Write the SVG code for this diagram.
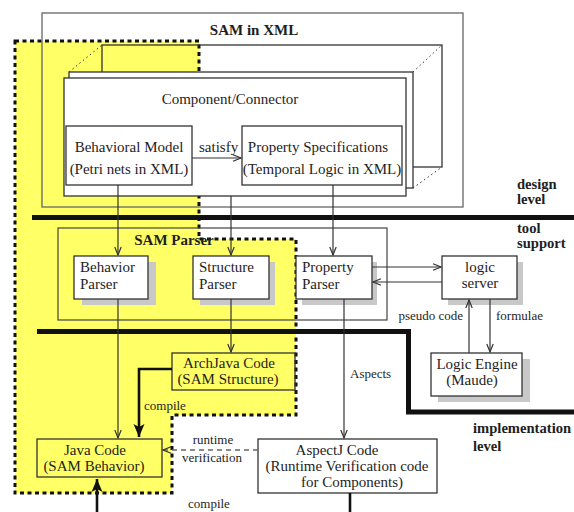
<svg xmlns="http://www.w3.org/2000/svg" width="574" height="512" viewBox="0 0 574 512">
  <style>
    text { font-family: "Liberation Serif", "Times New Roman", serif; fill: #1e1e1e; }
    .t15 { font-size: 15px; }
    .t13 { font-size: 13px; }
    .bold { font-size: 15px; font-weight: bold; }
    .lvl { font-size: 14.6px; font-weight: bold; }
    .mid { text-anchor: middle; }
    .end { text-anchor: end; }
    .box { fill: #fff; stroke: #333; stroke-width: 1.3; }
    .clear { fill: none; stroke: #333; stroke-width: 1.3; }
    .shadow { fill: #c8c8c8; }
    .edge { fill: none; stroke: #333; stroke-width: 1.2; }
    .heavy { fill: none; stroke: #111; stroke-width: 2.6; }
    .dash { fill: none; stroke: #666; stroke-width: 1.4; stroke-dasharray: 5 4; }
    .bar { fill: none; stroke: #111; stroke-width: 5; }
    .dots { fill: none; stroke: #333; stroke-width: 1; stroke-dasharray: 1.5 3; }
  </style>
  <defs>
    <marker id="open" markerUnits="userSpaceOnUse" markerWidth="12" markerHeight="10" refX="9" refY="4" orient="auto">
      <path d="M1,0.8 L9,4 L1,7.2" fill="none" stroke="#333" stroke-width="1.2"/>
    </marker>
    <marker id="solid" markerUnits="userSpaceOnUse" markerWidth="16" markerHeight="14" refX="13" refY="6" orient="auto">
      <path d="M0,0.5 L13,6 L0,11.5 L3,6 Z" fill="#111"/>
    </marker>
  </defs>

  <rect width="574" height="512" fill="#fff"/>

  <!-- SAM behaviour area (yellow, dashed outline) -->
  <g id="behavior-area">
    <path d="M15,41 H199 V239 H296 V415 H172 V493 H15 Z" fill="#ffff66" stroke="#111" stroke-width="3" stroke-dasharray="4 3.5"/>
  </g>

  <!-- SAM in XML -->
  <g id="sam-xml">
    <rect x="42" y="13" width="421" height="194" fill="none" stroke="#666" stroke-width="1.3"/>
    <text class="bold mid" x="254" y="35">SAM in XML</text>
  </g>

  <!-- stacked component/connector sheets -->
  <g id="component-connector">
    <rect class="clear" x="102" y="45" width="340" height="122"/>
    <path class="dots" d="M69,72 L102,45 M413,72 L442,45 M413,188 L442,167"/>
    <rect class="box" x="69" y="72" width="344" height="116"/>
    <rect class="box" x="64" y="78" width="342" height="118"/>
    <text class="t15 mid" x="230" y="104">Component/Connector</text>
  </g>

  <g id="behavioral-model">
    <rect class="box" x="66" y="126" width="126" height="59"/>
    <text class="t15 mid" x="129" y="152">Behavioral Model</text>
    <text class="t15 mid" x="129" y="174">(Petri nets in XML)</text>
  </g>

  <g id="property-specs">
    <rect class="box" x="242" y="126" width="160" height="59"/>
    <text class="t15 mid" x="318" y="152">Property Specifications</text>
    <text class="t15 mid" x="322" y="174">(Temporal Logic in XML)</text>
  </g>

  <!-- level dividers -->
  <g id="levels">
    <path class="bar" d="M32,217.5 H574"/>
    <path class="bar" d="M37,331.5 H408.5 V412 H574"/>
    <text class="lvl" x="517" y="189">design</text>
    <text class="lvl" x="517" y="204">level</text>
    <text class="lvl" x="517" y="233">tool</text>
    <text class="lvl" x="517" y="248">support</text>
    <text class="lvl" x="473" y="433">implementation</text>
    <text class="lvl" x="473" y="451">level</text>
  </g>

  <g id="sam-parser">
    <rect x="58" y="228" width="329" height="92" fill="none" stroke="#444" stroke-width="1.2"/>
    <text class="bold mid" x="174" y="245">SAM Parser</text>
  </g>

  <g id="behavior-parser">
    <rect class="shadow" x="82" y="262" width="74" height="43"/>
    <rect class="box" x="74" y="256" width="74" height="43"/>
    <text class="t15" x="80" y="272">Behavior</text>
    <text class="t15" x="80" y="289">Parser</text>
  </g>

  <g id="structure-parser">
    <rect class="shadow" x="200" y="262" width="75" height="43"/>
    <rect class="box" x="193" y="256" width="76" height="43"/>
    <text class="t15" x="199" y="272">Structure</text>
    <text class="t15" x="199" y="289">Parser</text>
  </g>

  <g id="property-parser">
    <rect class="shadow" x="302" y="262" width="75" height="43"/>
    <rect class="box" x="296" y="256" width="76" height="43"/>
    <text class="t15" x="302" y="272">Property</text>
    <text class="t15" x="302" y="289">Parser</text>
  </g>

  <g id="logic-server">
    <rect class="shadow" x="448" y="262" width="75" height="43"/>
    <rect class="box" x="442" y="256" width="75" height="43"/>
    <text class="t15 mid" x="480" y="272">logic</text>
    <text class="t15 mid" x="480" y="288">server</text>
  </g>

  <g id="logic-engine">
    <rect class="shadow" x="438" y="359" width="92" height="43"/>
    <rect class="box" x="431" y="353" width="91" height="43"/>
    <text class="t15 mid" x="477" y="369">Logic Engine</text>
    <text class="t15 mid" x="472" y="385">(Maude)</text>
  </g>

  <g id="archjava-code">
    <rect class="clear" x="172" y="353" width="123" height="37"/>
    <text class="t15 mid" x="229" y="368">ArchJava Code</text>
    <text class="t15 mid" x="228" y="384">(SAM Structure)</text>
  </g>

  <g id="java-code">
    <rect class="clear" x="37" y="439" width="125" height="38"/>
    <text class="t15 mid" x="95" y="455">Java Code</text>
    <text class="t15 mid" x="94" y="471">(SAM Behavior)</text>
  </g>

  <g id="aspectj-code">
    <rect class="box" x="258" y="439" width="179" height="54"/>
    <text class="t15 mid" x="337" y="455">AspectJ Code</text>
    <text class="t15 mid" x="347" y="471">(Runtime Verification code</text>
    <text class="t15 mid" x="352" y="487">for Components)</text>
  </g>

  <!-- connectors -->
  <g id="connectors">
    <path class="edge" d="M192,158 H241" marker-end="url(#open)"/>
    <text class="t15" x="199" y="152">satisfy</text>
    <path class="edge" d="M118,185 V255" marker-end="url(#open)"/>
    <path class="edge" d="M231,196 V255" marker-end="url(#open)"/>
    <path class="edge" d="M333,185 V255" marker-end="url(#open)"/>
    <path class="edge" d="M372,267 H441" marker-end="url(#open)"/>
    <path class="edge" d="M442,282 H373" marker-end="url(#open)"/>
    <path class="edge" d="M469,353 V300" marker-end="url(#open)"/>
    <path class="edge" d="M490,299 V352" marker-end="url(#open)"/>
    <text class="t13 end" x="463" y="320">pseudo code</text>
    <text class="t13" x="496" y="320">formulae</text>
    <path class="edge" d="M231,299 V352" marker-end="url(#open)"/>
    <path class="edge" d="M118,299 V438" marker-end="url(#open)"/>
    <path class="edge" d="M344,299 V438" marker-end="url(#open)"/>
    <text class="t13" x="350" y="378">Aspects</text>
    <path class="heavy" d="M172,369 H139 V437" marker-end="url(#solid)"/>
    <text class="t13" x="144" y="410">compile</text>
    <path class="dash" d="M258,450 H163" marker-end="url(#open)"/>
    <text class="t13 mid" x="213" y="444">runtime</text>
    <text class="t13 mid" x="212" y="462">verification</text>
    <path class="heavy" d="M97,512 V479" marker-end="url(#solid)"/>
    <path class="heavy" d="M350,493 V512"/>
    <text class="t13" x="188" y="508">compile</text>
  </g>
</svg>
